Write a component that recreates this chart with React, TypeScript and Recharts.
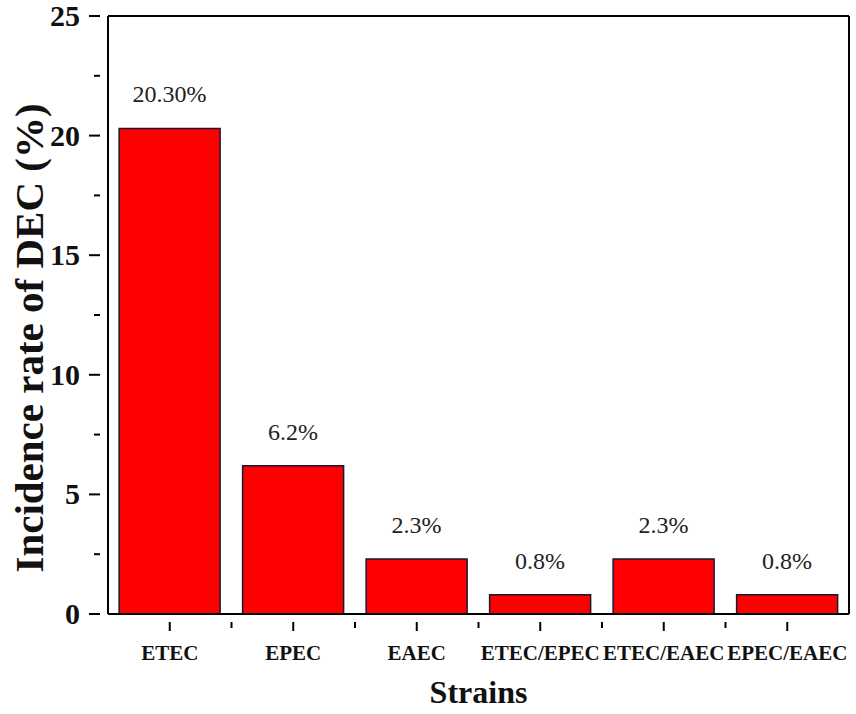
import { BarChart, Bar, XAxis, YAxis, LabelList, Label } from "recharts";

const strains = ["ETEC", "EPEC", "EAEC", "ETEC/EPEC", "ETEC/EAEC", "EPEC/EAEC"];
const rates = [20.3, 6.2, 2.3, 0.8, 2.3, 0.8];
const rateLabels = ["20.30%", "6.2%", "2.3%", "0.8%", "2.3%", "0.8%"];
const yTicks = [0, 2.5, 5, 7.5, 10, 12.5, 15, 17.5, 20, 22.5, 25];

const data = strains.map((name, i) => ({
  name,
  rate: rates[i],
  label: rateLabels[i],
}));

const FONT = "'Liberation Serif', 'Times New Roman', serif";

// y ticks: long outward tick + bold label on whole numbers, short tick between
const YTick = (props: any) => {
  const { x, y, payload } = props;
  const major = payload.value % 5 === 0;
  return (
    <g>
      <line x1={x - (major ? 11 : 6)} x2={x} y1={y} y2={y} stroke="#000" strokeWidth={2} />
      {major && (
        <text
          x={x - 20}
          y={y}
          dy={10}
          textAnchor="end"
          style={{ fontFamily: FONT, fontWeight: "bold", fontSize: 30 }}
          fill="#111"
        >
          {payload.value}
        </text>
      )}
    </g>
  );
};

// x ticks: tick at the centre, short tick at the band edge
const XTick = (props: any) => {
  const { x, y, payload, index } = props;
  const half = payload.offset || 61.75;
  const last = index === strains.length - 1;
  return (
    <g>
      <line x1={x} x2={x} y1={y} y2={y + 9} stroke="#000" strokeWidth={2} />
      {!last && (
        <line x1={x + half} x2={x + half} y1={y} y2={y + 6} stroke="#000" strokeWidth={2} />
      )}
      <text
        x={x}
        y={y + 38}
        textAnchor="middle"
        style={{ fontFamily: FONT, fontWeight: "bold", fontSize: 21 }}
        fill="#111"
      >
        {payload.value}
      </text>
    </g>
  );
};

const YTitle = (props: any) => {
  const { viewBox } = props;
  const cx = 29;
  const cy = viewBox.y + viewBox.height / 2 + 23;
  return (
    <text
      x={cx}
      y={cy}
      transform={`rotate(-90 ${cx} ${cy})`}
      textAnchor="middle"
      dy={14}
      style={{ fontFamily: FONT, fontWeight: "bold", fontSize: 41 }}
      fill="#111"
    >
      Incidence rate of DEC (%)
    </text>
  );
};

const XTitle = (props: any) => {
  const { viewBox } = props;
  return (
    <text
      x={viewBox.x + viewBox.width / 2}
      y={703}
      textAnchor="middle"
      style={{ fontFamily: FONT, fontWeight: "bold", fontSize: 32 }}
      fill="#111"
    >
      Strains
    </text>
  );
};

const ValueLabel = (props: any) => {
  const { x, y, width, value } = props;
  return (
    <text
      x={x + width / 2}
      y={y - 26}
      textAnchor="middle"
      style={{ fontFamily: FONT, fontSize: 24 }}
      fill="#222"
    >
      {value}
    </text>
  );
};

export default function App() {
  return (
    <div style={{ position: "absolute", left: 0, top: 0, background: "#fff" }}>
      <BarChart
        width={856}
        height={714}
        data={data}
        margin={{ top: 15, right: 6, bottom: 0, left: 0 }}
        barCategoryGap="9%"
      >
        <XAxis
          dataKey="name"
          height={100}
          tick={<XTick />}
          tickLine={false}
          axisLine={{ stroke: "#000", strokeWidth: 2 }}
          interval={0}
        >
          <Label content={<XTitle />} />
        </XAxis>
        <XAxis
          xAxisId="top"
          dataKey="name"
          orientation="top"
          height={1}
          tick={false}
          tickLine={false}
          axisLine={{ stroke: "#000", strokeWidth: 2 }}
        />
        <YAxis
          width={108}
          domain={[0, 25]}
          ticks={yTicks}
          interval={0}
          tick={<YTick />}
          tickLine={false}
          axisLine={{ stroke: "#000", strokeWidth: 2 }}
        >
          <Label content={<YTitle />} />
        </YAxis>
        <YAxis
          yAxisId="right"
          orientation="right"
          width={1}
          domain={[0, 25]}
          tick={false}
          tickLine={false}
          axisLine={{ stroke: "#000", strokeWidth: 2 }}
        />
        <Bar
          dataKey="rate"
          fill="#ff0000"
          stroke="#141a33"
          strokeWidth={1.5}
          isAnimationActive={false}
        >
          <LabelList dataKey="label" content={<ValueLabel />} />
        </Bar>
      </BarChart>
    </div>
  );
}
